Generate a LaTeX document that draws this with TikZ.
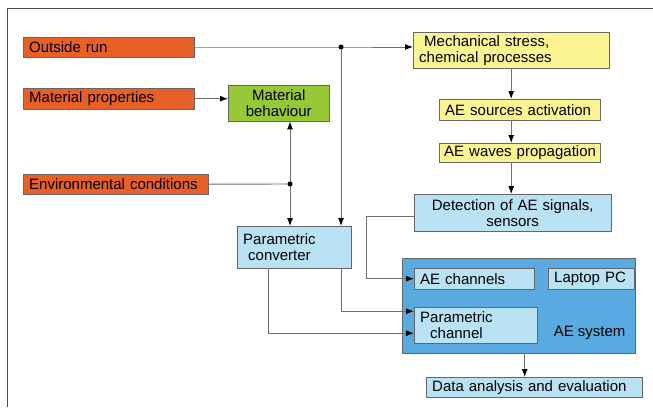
\documentclass[tikz,border=0pt]{standalone}
\usepackage{fontspec}
\setmainfont{Liberation Sans}
\usetikzlibrary{arrows.meta}
\definecolor{causecol}{RGB}{232,96,38}
\definecolor{behavcol}{RGB}{150,200,55}
\definecolor{stagecol}{RGB}{250,244,145}
\definecolor{devcol}{RGB}{185,226,245}
\definecolor{syscol}{RGB}{88,170,225}
\definecolor{wirecol}{RGB}{120,108,100}
\hyphenpenalty=10000

\begin{document}
\begin{tikzpicture}[x=1pt,y=-1pt,
    blk/.style={draw=black!60, anchor=north west, inner xsep=6pt, inner ysep=0pt,
                align=left, font=\fontsize{15}{16}\selectfont},
    cause/.style={blk, fill=causecol},
    stage/.style={blk, fill=stagecol},
    dev/.style={blk, fill=devcol},
    wire/.style={draw=wirecol, line width=0.9pt},
    arr/.style={wire, -{Latex[length=8pt,width=6pt,color=black]}},
    dot/.style={fill=black}]
    \useasboundingbox (0,0) rectangle (653,407);
    \draw[black!70, line width=1pt] (7,407) -- (7,8) -- (653,8);

    \node[cause, text width=159pt, minimum height=20pt] (run) at (23,37) {Outside run};
    \node[cause, text width=159pt, minimum height=21pt] (prop) at (23,88) {Material properties};
    \node[cause, text width=173pt, minimum height=20pt] (env) at (23,174) {Environmental conditions};
    \node[blk, fill=behavcol, align=center, text width=89pt, minimum height=36pt] (behav) at (228,85) {Material\\behaviour};
    \node[dev, text width=102pt, minimum height=42pt] (conv) at (237,226) {Parametric\\\ converter};

    \node[stage, text width=184pt, minimum height=36pt] (mech) at (413,32) {\ Mechanical stress,\\chemical processes};
    \node[stage, text width=149pt, minimum height=21pt] (src) at (439,99) {AE sources activation};
    \node[stage, inner xsep=3pt, text width=155pt, minimum height=19pt] (wave) at (439,143) {\hspace{2pt}AE waves propagation};
    \node[dev, align=center, text width=185pt, minimum height=37pt] (det) at (414,194) {Detection of AE signals,\\sensors};

    \node[blk, fill=syscol, minimum width=233pt, minimum height=95pt] (sys) at (402,258) {};
    \node[dev, text width=108pt, minimum height=21pt] (chan) at (414,268) {AE channels};
    \node[dev, text width=74pt, minimum height=21pt] (pc) at (548,268) {Laptop PC};
    \node[dev, text width=111pt, minimum height=36pt] (pchan) at (414,307) {Parametric\\\ \ channel};
    \node[anchor=east, font=\fontsize{15}{16}\selectfont] (syslbl) at (629,333) {AE system};
    \node[dev, text width=204pt, minimum height=20pt] (data) at (426,377) {Data analysis and evaluation};

    \coordinate (j1) at (341,47);
    \coordinate (j2) at (290,184);

    \draw[arr] (run.east |- j1) -- (j1) -- (j1 -| mech.west);
    \draw[arr] (j1) -- (j1 |- conv.north);
    \draw[arr] (prop.east) -- (prop.east -| behav.west);
    \draw[wire] (env.east) -- (j2);
    \draw[arr] (j2) -- (j2 |- behav.south);
    \draw[arr] (j2) -- (j2 |- conv.north);
    \fill[dot] (j1) circle (2.5);
    \fill[dot] (j2) circle (2.5);

    \draw[arr] (mech.south) -- (mech.south |- src.north);
    \draw[arr] (src.south -| mech.south) -- (mech.south |- wave.north);
    \draw[arr] (wave.south -| mech.south) -- (mech.south |- det.north);

    \draw[arr] ([yshift=-4pt]det.west) -- ++(-48,0) |- (chan.west);
    \draw[arr] (conv.south -| j1) |- ([yshift=14pt]pchan.west);
    \draw[arr] ([xshift=31pt]conv.south west) |- ([yshift=-8pt]pchan.west);
    \draw[arr] ([xshift=6pt]sys.south) -- ([xshift=6pt]sys.south |- data.north);
\end{tikzpicture}
\end{document}
